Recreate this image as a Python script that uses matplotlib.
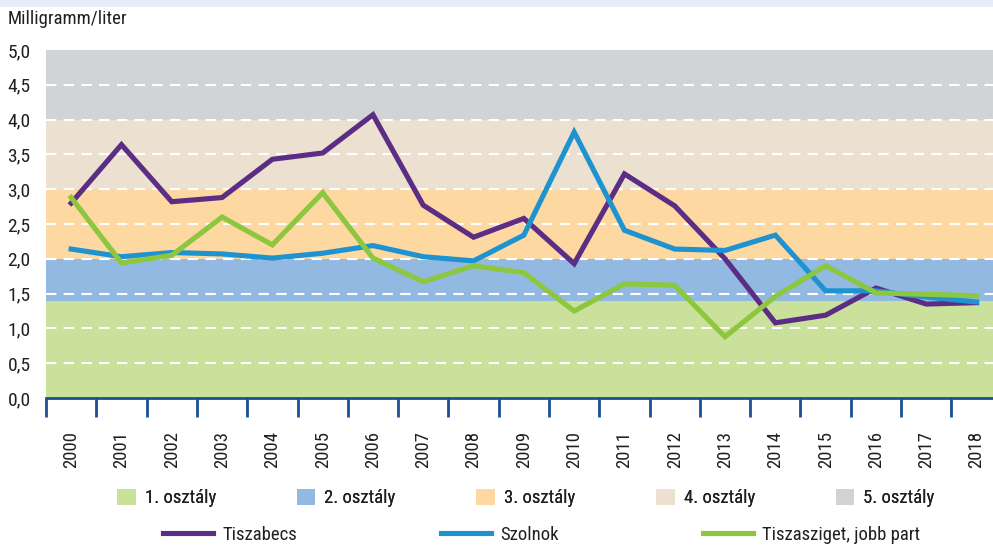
import matplotlib
matplotlib.use("Agg")
import matplotlib.pyplot as plt
import numpy as np
from matplotlib.patches import Patch, Rectangle
from matplotlib.lines import Line2D

plt.rcParams['font.family'] = ['Roboto Condensed', 'DejaVu Sans']

years = [str(y) for y in range(2000, 2019)]

tiszabecs = [2.80, 3.64, 2.82, 2.88, 3.43, 3.52, 4.07, 2.77, 2.31, 2.58,
             1.93, 3.22, 2.76, 2.00, 1.08, 1.19, 1.58, 1.35, 1.37]
szolnok = [2.14, 2.03, 2.09, 2.07, 2.01, 2.08, 2.19, 2.03, 1.97, 2.34,
           3.82, 2.41, 2.14, 2.12, 2.34, 1.54, 1.54, 1.45, 1.38]
tiszasziget = [2.88, 1.94, 2.05, 2.60, 2.20, 2.95, 2.01, 1.67, 1.90, 1.80,
               1.25, 1.64, 1.62, 0.88, 1.46, 1.90, 1.51, 1.49, 1.47]

# quality class limits (mg/l)
class_names = ["1. osztály", "2. osztály", "3. osztály", "4. osztály", "5. osztály"]
class_bounds = [0.0, 1.4, 2.0, 3.0, 4.0, 5.0]
class_colors = ["#c9e19b", "#92b9e1", "#fdd9a1", "#ece0d1", "#d1d3d5"]

series_names = ["Tiszabecs", "Szolnok", "Tiszasziget, jobb part"]
series_colors = ["#5b2d84", "#1f93d0", "#8dc63f"]

ytick_vals = np.arange(0, 5.01, 0.5)

W, H = 993, 547
fig = plt.figure(figsize=(W / 100, H / 100), dpi=100)
text_color = "#231f20"
axis_blue = "#1b5192"

# pale header strip
fig.add_artist(Rectangle((0, 1 - 7 / H), 1, 7 / H, transform=fig.transFigure,
                         facecolor="#e6eff9", edgecolor="none"))

n = len(years)
ax = fig.add_axes([46 / W, (H - 398) / H, (n * 50.3) / W, 348 / H])
ax.set_xlim(-0.5, n - 0.5)
ax.set_ylim(0, 5)

for lo, hi, c in zip(class_bounds[:-1], class_bounds[1:], class_colors):
    ax.axhspan(lo, hi, color=c, lw=0, zorder=0)

for v in ytick_vals[1:-1]:
    ax.axhline(v, color="white", lw=1.5, ls=(0, (5, 3.5)), zorder=1)

x = np.arange(n)
for vals, c in zip([tiszabecs, szolnok, tiszasziget], series_colors):
    ax.plot(x, vals, color=c, lw=3.7, zorder=3, solid_joinstyle="miter")

for s in ["left", "right", "top"]:
    ax.spines[s].set_visible(False)
ax.spines["bottom"].set_color(axis_blue)
ax.spines["bottom"].set_linewidth(2)
ax.spines["bottom"].set_zorder(4)

ax.set_xticks(np.arange(n + 1) - 0.5)
ax.set_xticklabels([])
ax.tick_params(axis="x", which="major", length=14, width=2, color=axis_blue)
ax.set_xticks(x, minor=True)
ax.set_xticklabels(years, minor=True, rotation=90, fontsize=13.5, color=text_color)
ax.tick_params(axis="x", which="minor", length=0, pad=24)

ax.set_yticks(ytick_vals)
ax.set_yticklabels([f"{v:.1f}".replace(".", ",") for v in ytick_vals],
                   fontsize=14, color=text_color)
ax.tick_params(axis="y", length=0, pad=11)

fig.text(8 / W, 1 - 19 / H, "Milligramm/liter", fontsize=13.5, color=text_color,
         va="center", ha="left")

class_handles = [Patch(facecolor=c, edgecolor="none") for c in class_colors]
leg1 = fig.legend(class_handles, class_names, loc="center left",
                  bbox_to_anchor=(117 / W, 1 - 498 / H), ncol=5, frameon=False,
                  fontsize=13.5, handlelength=1.0, handleheight=1.0,
                  handletextpad=0.48, columnspacing=4.3, borderpad=0,
                  borderaxespad=0, labelcolor=text_color)
fig.add_artist(leg1)

line_handles = [Line2D([], [], color=c, lw=3.7) for c in series_colors]
fig.legend(line_handles, series_names, loc="center left",
           bbox_to_anchor=(163 / W, 1 - 535 / H), ncol=3, frameon=False,
           fontsize=13.5, handlelength=2.67, handletextpad=0.48,
           columnspacing=7.7, borderpad=0, borderaxespad=0,
           labelcolor=text_color)

fig.savefig("out.png", dpi=100)
